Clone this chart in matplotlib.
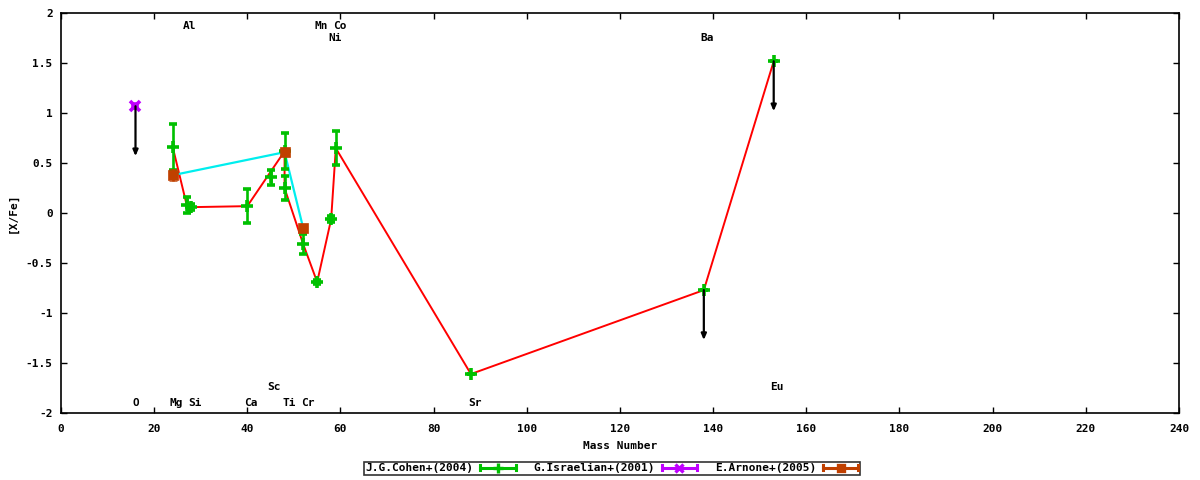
import matplotlib
matplotlib.use("Agg")
import matplotlib.pyplot as plt
from matplotlib.lines import Line2D
from matplotlib.legend_handler import HandlerBase

plt.rcParams['font.family'] = ['DejaVu Sans Mono']
plt.rcParams['font.weight'] = 'bold'
plt.rcParams['axes.unicode_minus'] = False

# ---- data ----
cohen_mass = [24, 27, 28, 40, 45, 48, 48, 52, 55, 58, 59, 88, 138, 153]
cohen_val = [0.66, 0.08, 0.06, 0.07, 0.36, 0.62, 0.25, -0.31, -0.69, -0.06, 0.65, -1.61, -0.77, 1.52]
cohen_err = [0.23, 0.08, 0.03, 0.17, 0.075, 0.18, 0.12, 0.10, 0.02, 0.03, 0.17, 0.0, 0.0, 0.0]
cohen_on_line = [True, True, True, True, False, True, True, True, True, True, True, True, True, True]
cohen_upper = [False] * 12 + [True, True]

isr_mass = [16]
isr_val = [1.07]
isr_err = [0.02]
isr_upper = [True]

arn_mass = [24, 48, 52]
arn_val = [0.38, 0.61, -0.15]
arn_err = [0.06, 0.02, 0.02]

label_text = ['O', 'Mg', 'Si', 'Ca', 'Sc', 'Ti', 'Cr', 'Sr', 'Eu', 'Al', 'Mn', 'Co', 'Ni', 'Ba']
label_x = [16, 24.8, 28.8, 40.8, 45.8, 48.9, 52.9, 88.9, 153.7, 27.7, 55.9, 59.9, 58.9, 138.8]
label_y = [-1.9, -1.9, -1.9, -1.9, -1.74, -1.9, -1.9, -1.9, -1.74, 1.87, 1.87, 1.87, 1.755, 1.755]

limit_len = 0.5

GREEN = '#00c000'
PURPLE = '#c000ff'
BROWN = '#c04000'
RED = '#ff0000'
CYAN = '#00eeee'

fig = plt.figure(figsize=(12, 4.8), dpi=100)
ax = fig.add_axes([0.0508, 0.1396, 0.9317, 0.8327])

# connecting lines
lx = [m for m, on in zip(cohen_mass, cohen_on_line) if on]
ly = [v for v, on in zip(cohen_val, cohen_on_line) if on]
ax.plot(lx, ly, color=RED, lw=1.4, zorder=2)
ax.plot(arn_mass, arn_val, color=CYAN, lw=1.6, zorder=2)

common = dict(capsize=2.6, capthick=1.6, elinewidth=1.9, linestyle='none')
ax.errorbar(cohen_mass, cohen_val, yerr=cohen_err, color=GREEN, marker='+', markersize=8.5,
            markeredgewidth=2.6, zorder=3, **common)
ax.errorbar(isr_mass, isr_val, yerr=isr_err, color=PURPLE, marker='x', markersize=7,
            markeredgewidth=2.6, zorder=4, **common)
ax.errorbar(arn_mass, arn_val, yerr=arn_err, color=BROWN, marker='s', zorder=4,
            markeredgecolor=BROWN, markerfacecolor=BROWN, markersize=6.8,
            markeredgewidth=0.5, **common)

# upper-limit arrows
for xs, ys, ups in [(cohen_mass, cohen_val, cohen_upper), (isr_mass, isr_val, isr_upper)]:
    for x, y, u in zip(xs, ys, ups):
        if u:
            ax.annotate('', xy=(x, y - limit_len), xytext=(x, y),
                        arrowprops=dict(arrowstyle='-|>,head_length=0.35,head_width=0.15',
                                        color='black', lw=1.6, shrinkA=0, shrinkB=0),
                        zorder=5)

for t, x, y in zip(label_text, label_x, label_y):
    ax.text(x, y, t, ha='center', va='center', fontsize=8, fontweight='bold')

ax.set_xlim(0, 240)
ax.set_ylim(-2, 2)
ax.set_xticks(range(0, 241, 20))
ax.set_yticks([-2, -1.5, -1, -0.5, 0, 0.5, 1, 1.5, 2])
ax.set_yticklabels(['-2', '-1.5', '-1', '-0.5', '0', '0.5', '1', '1.5', '2'])
ax.tick_params(direction='in', length=4, width=1, top=True, right=True, labelsize=8)
ax.tick_params(axis='x', pad=8)
ax.tick_params(axis='y', pad=6)
for s in ax.spines.values():
    s.set_linewidth(1.2)
ax.set_xlabel('Mass Number', fontsize=8, fontweight='bold', labelpad=5)
ax.set_ylabel('[X/Fe]', fontsize=8, fontweight='bold', labelpad=6)


class ErrHandler(HandlerBase):
    def __init__(self, color, marker, ms):
        super().__init__()
        self.color = color
        self.marker = marker
        self.ms = ms

    def create_artists(self, legend, orig_handle, xdescent, ydescent, width, height, fontsize, trans):
        y = height / 2 - ydescent
        h = height * 0.35
        arts = [
            Line2D([-xdescent, -xdescent + width], [y, y], color=self.color, lw=2.2, transform=trans),
            Line2D([-xdescent, -xdescent], [y - h, y + h], color=self.color, lw=2.2, transform=trans),
            Line2D([-xdescent + width, -xdescent + width], [y - h, y + h], color=self.color, lw=2.2,
                   transform=trans),
            Line2D([-xdescent + width / 2], [y], color=self.color, marker=self.marker, ms=self.ms,
                   mew=2.4, mfc=self.color, mec=self.color, transform=trans),
        ]
        return arts


h1 = Line2D([], [])
h2 = Line2D([], [])
h3 = Line2D([], [])
leg = fig.legend([h1, h2, h3], ['J.G.Cohen+(2004)', 'G.Israelian+(2001)', 'E.Arnone+(2005)'],
                 handler_map={h1: ErrHandler(GREEN, '+', 7), h2: ErrHandler(PURPLE, 'x', 6),
                              h3: ErrHandler(BROWN, 's', 5)},
                 loc='center', bbox_to_anchor=(0.51, 0.024), ncol=3, markerfirst=False,
                 frameon=True, fancybox=False, edgecolor='black',
                 handlelength=3.2, handletextpad=0.6, columnspacing=1.6,
                 borderpad=0.15, prop={'weight': 'bold', 'size': 8})
leg.get_frame().set_linewidth(1.2)

fig.savefig('out.png', dpi=100)
